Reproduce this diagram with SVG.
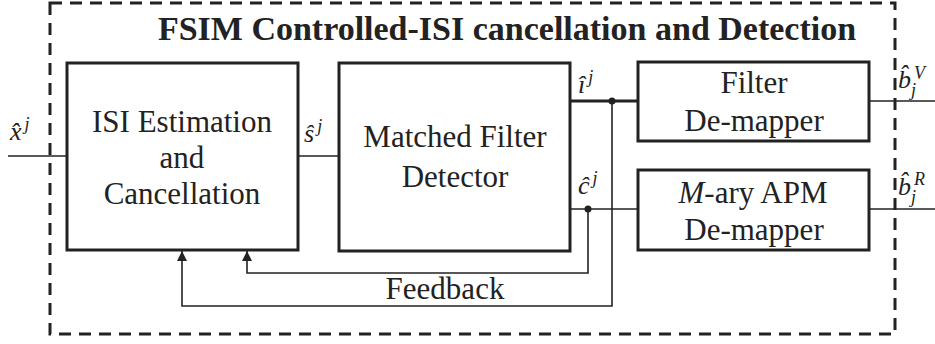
<svg xmlns="http://www.w3.org/2000/svg" width="935" height="344" viewBox="0 0 935 344">
<style>
.box{fill:#fff;stroke:#222;stroke-width:3}
.ln{fill:none;stroke:#222;stroke-width:1.6}
.t{font-size:31px;fill:#222;text-anchor:middle}
.m{font-style:italic;font-size:26px;fill:#222}
.s{font-size:18px}
</style>
<defs>
<marker id="ar" viewBox="0 0 10 10" refX="10" refY="5" markerWidth="10" markerHeight="10" markerUnits="userSpaceOnUse" orient="auto"><path d="M0,0 L10,5 L0,10 z" fill="#222"/></marker>
</defs>
<rect x="50" y="3" width="845" height="331" fill="none" stroke="#222" stroke-width="3" stroke-dasharray="12,8"/>
<text x="507" y="40" font-family="'Liberation Serif', 'Times New Roman', serif" font-weight="bold" font-size="34" fill="#222" text-anchor="middle">FSIM Controlled-ISI cancellation and Detection</text>
<g id="connectors">
<line class="ln" x1="8" y1="156" x2="67" y2="156"/>
<line class="ln" x1="298" y1="156" x2="339" y2="156"/>
<line x1="570" y1="101" x2="638" y2="101" stroke="#222" stroke-width="3"/>
<line class="ln" x1="570" y1="209" x2="638" y2="209"/>
<line class="ln" x1="869" y1="101" x2="935" y2="101"/>
<line class="ln" x1="869" y1="209" x2="935" y2="209"/>
<polyline class="ln" points="588,209 588,273 247,273 247,251" marker-end="url(#ar)"/>
<polyline class="ln" points="612,101 612,306 182,306 182,251" marker-end="url(#ar)"/>
<circle cx="612" cy="101" r="3.5" fill="#222"/>
<circle cx="588" cy="209" r="3.5" fill="#222"/>
</g>
<g font-family="'Liberation Serif', 'Times New Roman', serif">
<g id="isi">
<rect class="box" x="67" y="63" width="231" height="187"/>
<text class="t" x="182" y="132">ISI Estimation</text>
<text class="t" x="182" y="168">and</text>
<text class="t" x="182" y="204">Cancellation</text>
</g>
<g id="mfd">
<rect class="box" x="339" y="63" width="231" height="188"/>
<text class="t" x="455" y="147">Matched Filter</text>
<text class="t" x="455" y="187">Detector</text>
</g>
<g id="fdm">
<rect class="box" x="638" y="62" width="231" height="79"/>
<text class="t" x="754" y="93">Filter</text>
<text class="t" x="754" y="131">De-mapper</text>
</g>
<g id="apm">
<rect class="box" x="638" y="170" width="231" height="80"/>
<text class="t" x="753" y="203"><tspan font-style="italic">M</tspan>-ary APM</text>
<text class="t" x="754" y="240">De-mapper</text>
</g>
<g id="labels">
<text class="m" x="10" y="140">x̂<tspan class="s" dx="3" dy="-10">j</tspan></text>
<text class="m" x="304" y="142">ŝ<tspan class="s" dx="3" dy="-10">j</tspan></text>
<text class="m" x="578" y="93">î<tspan class="s" dx="3" dy="-10">j</tspan></text>
<text class="m" x="578" y="194">ĉ<tspan class="s" dx="3" dy="-10">j</tspan></text>
<text class="m" x="898" y="88">b̂</text>
<text class="m s" x="911" y="96">j</text>
<text class="m s" x="914" y="79">V</text>
<text class="m" x="898" y="195">b̂</text>
<text class="m s" x="911" y="203">j</text>
<text class="m s" x="914" y="185">R</text>
<text class="t" x="445" y="299">Feedback</text>
</g>
</g>
</svg>
